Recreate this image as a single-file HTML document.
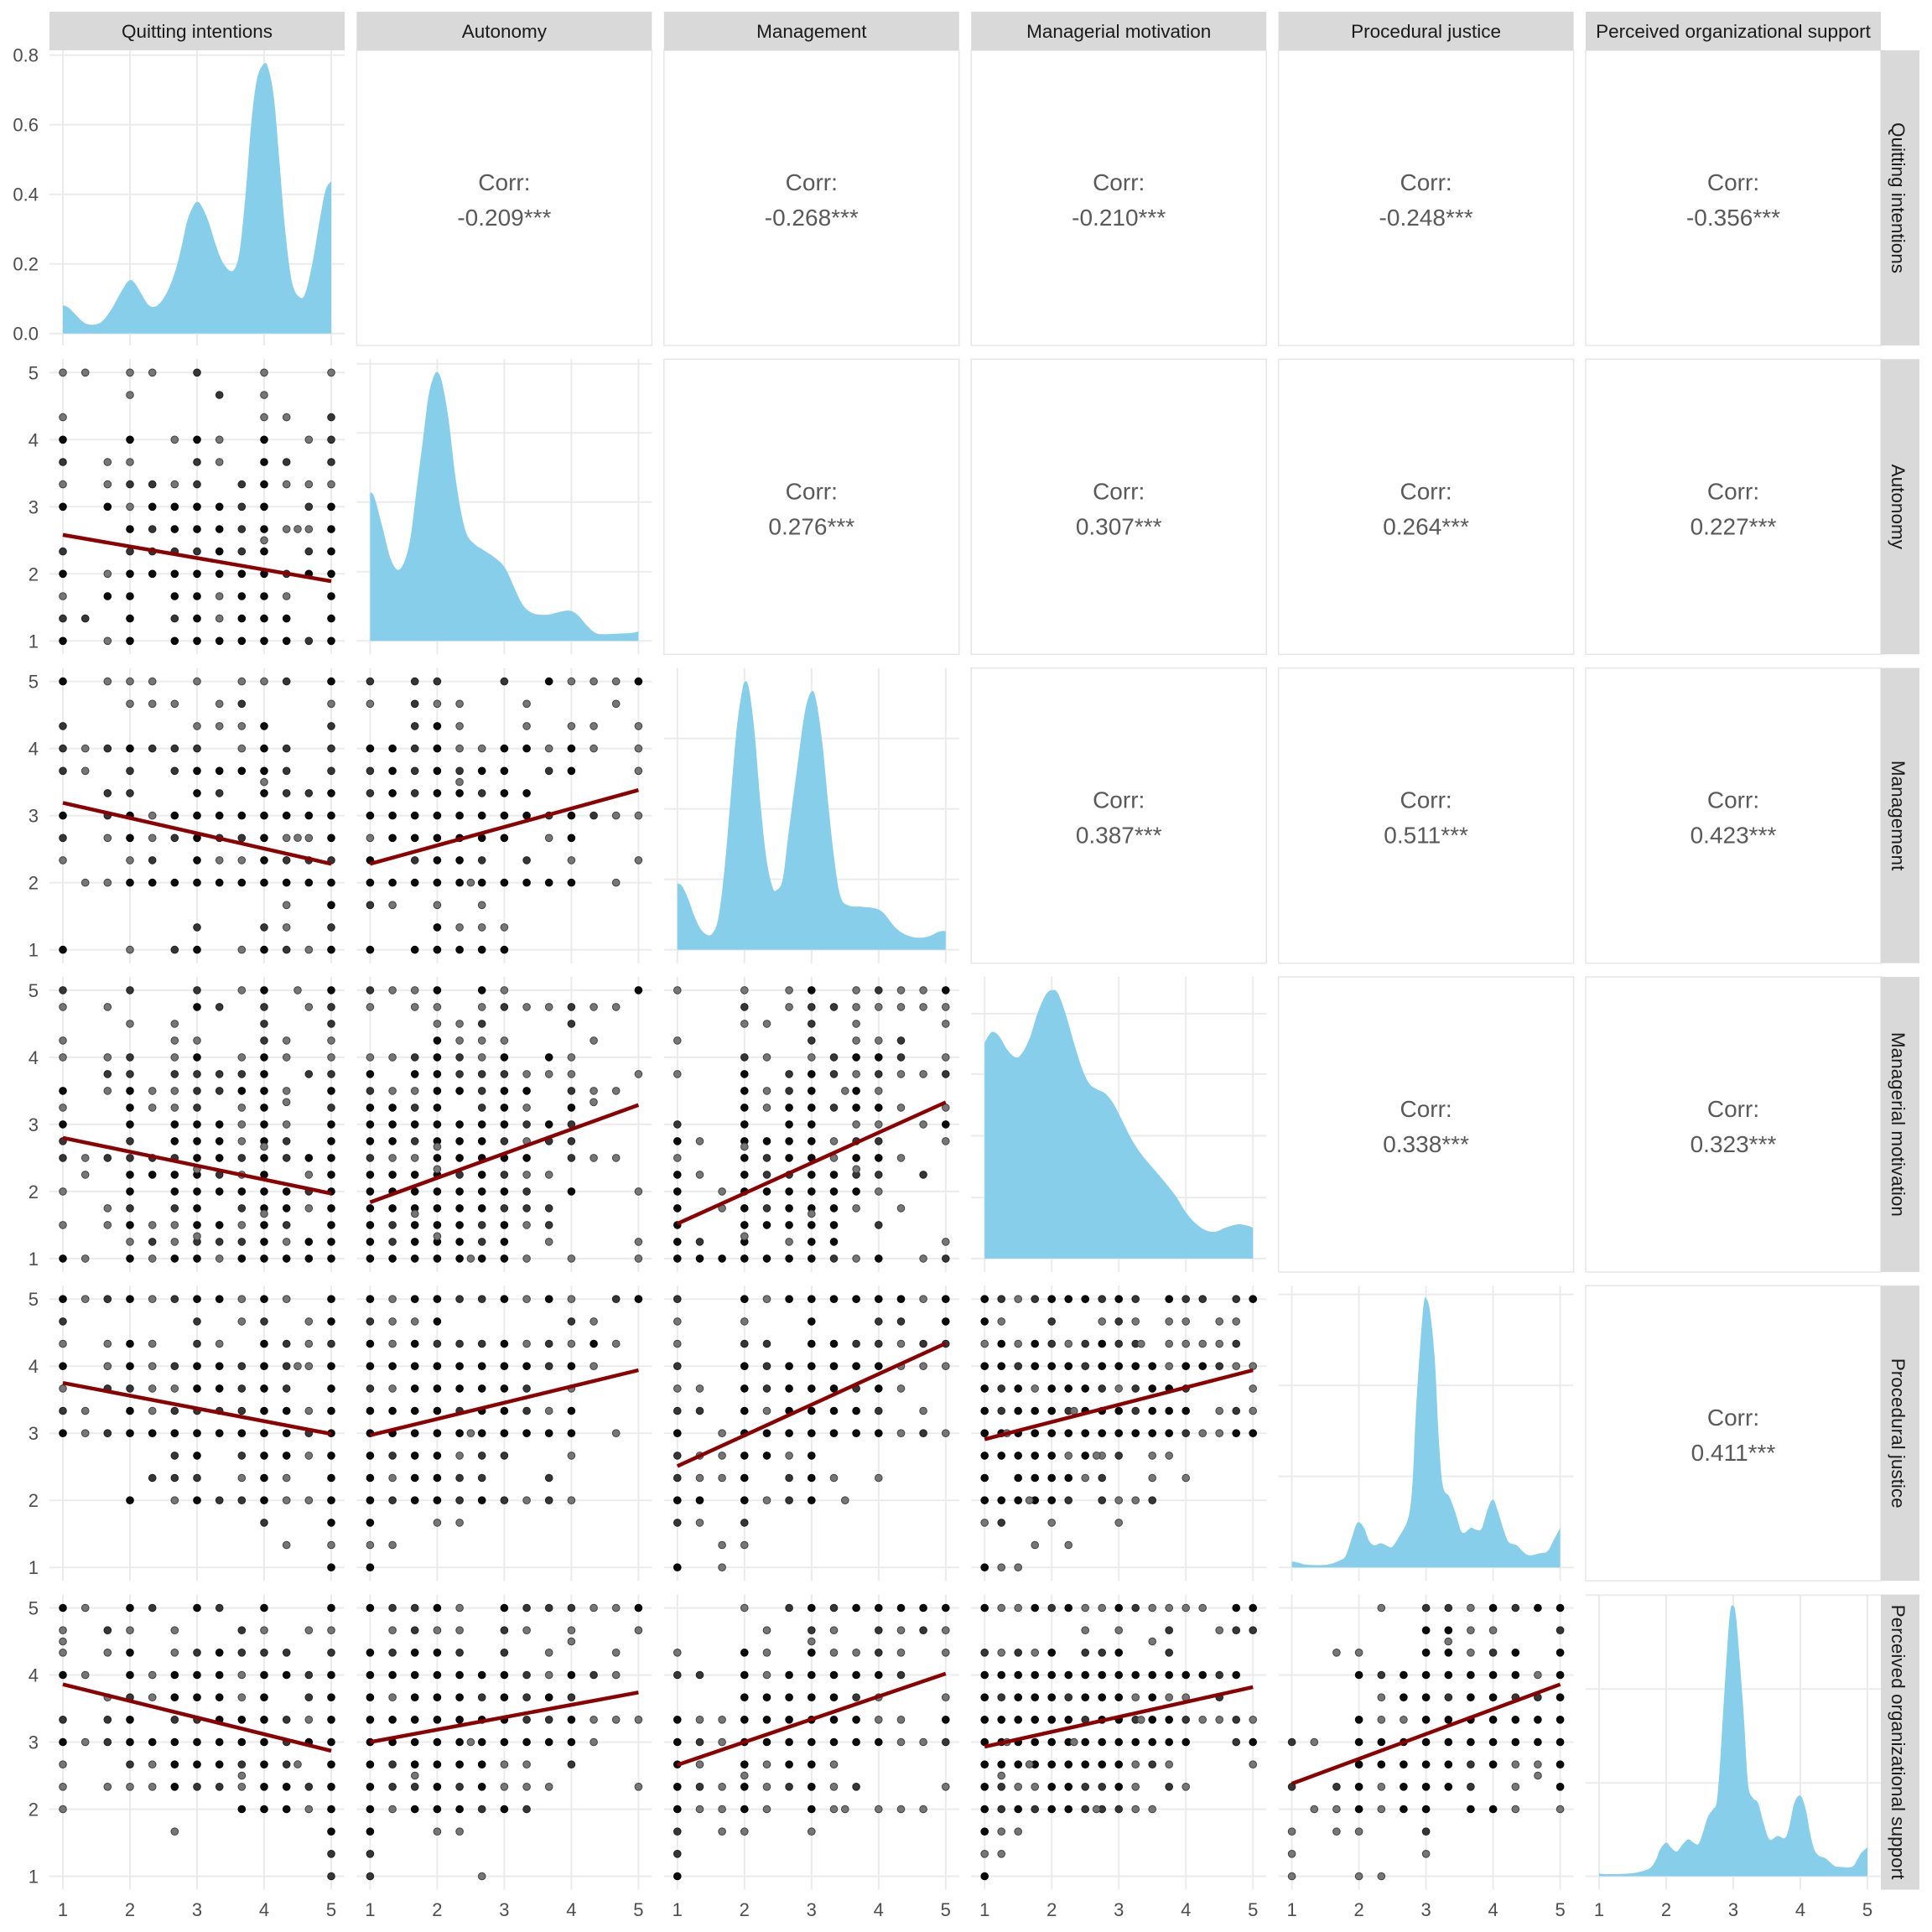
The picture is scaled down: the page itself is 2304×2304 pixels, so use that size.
<!DOCTYPE html>
<html><head><meta charset="utf-8">
<style>
html,body{margin:0;padding:0;background:#fff;}
svg{display:block;}
text{font-family:"Liberation Sans",Arial,sans-serif;}
.st{font-size:22.5px;fill:#1a1a1a;}
.tk{font-size:22px;fill:#4d4d4d;}
.cr{font-size:28px;fill:#595959;}
</style></head>
<body>
<svg id="s" width="2304" height="2304" viewBox="0 0 2304 2304" xmlns="http://www.w3.org/2000/svg">
<rect width="2304" height="2304" fill="#fff"/>
<g id="grid"></g>
<g id="dens"></g>
<g id="pts"></g>
<g id="lns"></g>

<!-- upper panel borders -->
<g fill="none" stroke="#e6e6e6" stroke-width="1.5">
<rect x="425.4" y="60" width="352" height="352"/><rect x="791.8" y="60" width="352" height="352"/><rect x="1158.2" y="60" width="352" height="352"/><rect x="1524.6" y="60" width="352" height="352"/><rect x="1891" y="60" width="352" height="352"/>
<rect x="791.8" y="428.3" width="352" height="352"/><rect x="1158.2" y="428.3" width="352" height="352"/><rect x="1524.6" y="428.3" width="352" height="352"/><rect x="1891" y="428.3" width="352" height="352"/>
<rect x="1158.2" y="796.6" width="352" height="352"/><rect x="1524.6" y="796.6" width="352" height="352"/><rect x="1891" y="796.6" width="352" height="352"/>
<rect x="1524.6" y="1164.9" width="352" height="352"/><rect x="1891" y="1164.9" width="352" height="352"/>
<rect x="1891" y="1533.2" width="352" height="352"/>
</g>

<!-- top strips -->
<g fill="#d9d9d9">
<rect x="59" y="14" width="352" height="46"/><rect x="425.4" y="14" width="352" height="46"/><rect x="791.8" y="14" width="352" height="46"/><rect x="1158.2" y="14" width="352" height="46"/><rect x="1524.6" y="14" width="352" height="46"/><rect x="1891" y="14" width="352" height="46"/>
<rect x="2243" y="60" width="46" height="352"/><rect x="2243" y="428.3" width="46" height="352"/><rect x="2243" y="796.6" width="46" height="352"/><rect x="2243" y="1164.9" width="46" height="352"/><rect x="2243" y="1533.2" width="46" height="352"/><rect x="2243" y="1901.5" width="46" height="352"/>
</g>
<g class="st" text-anchor="middle">
<text x="235" y="45">Quitting intentions</text>
<text x="601.4" y="45">Autonomy</text>
<text x="967.8" y="45">Management</text>
<text x="1334.2" y="45">Managerial motivation</text>
<text x="1700.6" y="45">Procedural justice</text>
<text x="2067" y="45">Perceived organizational support</text>
<text transform="translate(2264,236) rotate(90)" y="8">Quitting intentions</text>
<text transform="translate(2264,604.3) rotate(90)" y="8">Autonomy</text>
<text transform="translate(2264,972.6) rotate(90)" y="8">Management</text>
<text transform="translate(2264,1340.9) rotate(90)" y="8">Managerial motivation</text>
<text transform="translate(2264,1709.2) rotate(90)" y="8">Procedural justice</text>
<text transform="translate(2264,2077.5) rotate(90)" y="8">Perceived organizational support</text>
</g>

<!-- correlation text -->
<g class="cr" text-anchor="middle">
<text x="601.4" y="227">Corr:</text><text x="601.4" y="269">-0.209***</text>
<text x="967.8" y="227">Corr:</text><text x="967.8" y="269">-0.268***</text>
<text x="1334.2" y="227">Corr:</text><text x="1334.2" y="269">-0.210***</text>
<text x="1700.6" y="227">Corr:</text><text x="1700.6" y="269">-0.248***</text>
<text x="2067" y="227">Corr:</text><text x="2067" y="269">-0.356***</text>
<text x="967.8" y="595.3">Corr:</text><text x="967.8" y="637.3">0.276***</text>
<text x="1334.2" y="595.3">Corr:</text><text x="1334.2" y="637.3">0.307***</text>
<text x="1700.6" y="595.3">Corr:</text><text x="1700.6" y="637.3">0.264***</text>
<text x="2067" y="595.3">Corr:</text><text x="2067" y="637.3">0.227***</text>
<text x="1334.2" y="963.6">Corr:</text><text x="1334.2" y="1005.6">0.387***</text>
<text x="1700.6" y="963.6">Corr:</text><text x="1700.6" y="1005.6">0.511***</text>
<text x="2067" y="963.6">Corr:</text><text x="2067" y="1005.6">0.423***</text>
<text x="1700.6" y="1331.9">Corr:</text><text x="1700.6" y="1373.9">0.338***</text>
<text x="2067" y="1331.9">Corr:</text><text x="2067" y="1373.9">0.323***</text>
<text x="2067" y="1700.2">Corr:</text><text x="2067" y="1742.2">0.411***</text>
</g>

<!-- left tick labels -->
<g class="tk" text-anchor="end">
<text x="46" y="405.7">0.0</text><text x="46" y="322.7">0.2</text><text x="46" y="239.7">0.4</text><text x="46" y="156.7">0.6</text><text x="46" y="73.7">0.8</text>
<text x="46" y="772.3">1</text><text x="46" y="692.3">2</text><text x="46" y="612.3">3</text><text x="46" y="532.3">4</text><text x="46" y="452.3">5</text>
<text x="46" y="1140.6">1</text><text x="46" y="1060.6">2</text><text x="46" y="980.6">3</text><text x="46" y="900.6">4</text><text x="46" y="820.6">5</text>
<text x="46" y="1508.9">1</text><text x="46" y="1428.9">2</text><text x="46" y="1348.9">3</text><text x="46" y="1268.9">4</text><text x="46" y="1188.9">5</text>
<text x="46" y="1877.2">1</text><text x="46" y="1797.2">2</text><text x="46" y="1717.2">3</text><text x="46" y="1637.2">4</text><text x="46" y="1557.2">5</text>
<text x="46" y="2245.5">1</text><text x="46" y="2165.5">2</text><text x="46" y="2085.5">3</text><text x="46" y="2005.5">4</text><text x="46" y="1925.5">5</text>
</g>
<!-- bottom tick labels -->
<g class="tk" text-anchor="middle">
<text x="75" y="2285">1</text><text x="155" y="2285">2</text><text x="235" y="2285">3</text><text x="315" y="2285">4</text><text x="395" y="2285">5</text>
<text x="441.4" y="2285">1</text><text x="521.4" y="2285">2</text><text x="601.4" y="2285">3</text><text x="681.4" y="2285">4</text><text x="761.4" y="2285">5</text>
<text x="807.8" y="2285">1</text><text x="887.8" y="2285">2</text><text x="967.8" y="2285">3</text><text x="1047.8" y="2285">4</text><text x="1127.8" y="2285">5</text>
<text x="1174.2" y="2285">1</text><text x="1254.2" y="2285">2</text><text x="1334.2" y="2285">3</text><text x="1414.2" y="2285">4</text><text x="1494.2" y="2285">5</text>
<text x="1540.6" y="2285">1</text><text x="1620.6" y="2285">2</text><text x="1700.6" y="2285">3</text><text x="1780.6" y="2285">4</text><text x="1860.6" y="2285">5</text>
<text x="1907" y="2285">1</text><text x="1987" y="2285">2</text><text x="2067" y="2285">3</text><text x="2147" y="2285">4</text><text x="2227" y="2285">5</text>
</g>
</svg>
<script>
(function(){
const NS='http://www.w3.org/2000/svg';
const CX=c=>59+c*366.4, RY=r=>60+r*368.3;
const px=(c,v)=>CX(c)+16+(v-1)*80, py=(r,v)=>RY(r)+336-(v-1)*80;
function el(p,t,a){const e=document.createElementNS(NS,t);for(const k in a)e.setAttribute(k,a[k]);p.appendChild(e);return e;}
const G=document.getElementById('grid'),D=document.getElementById('dens'),PT=document.getElementById('pts'),LN=document.getElementById('lns');
function gl(x1,y1,x2,y2){el(G,'line',{x1:x1,y1:y1,x2:x2,y2:y2,stroke:'#ebebeb','stroke-width':2});}
function hl(r,c,y){gl(CX(c),y,CX(c)+352,y);}
for(let r=0;r<6;r++)for(let c=0;c<=r;c++){
  for(let v=1;v<=5;v++){const x=px(c,v);gl(x,RY(r),x,RY(r)+352);}
  if(r!==c)for(let v=1;v<=5;v++)hl(r,c,py(r,v));
}
[397.7,314.7,231.7,148.7,65.7].forEach(y=>hl(0,0,y));
const DG={1:[1,2.03,3.07,4.1,5.13],2:[1,2.05,3.1,4.15],3:[1,1.91,2.83,3.75,4.65],4:[1,2.357,3.714,5.07],5:[1,2.39,3.79,5.19]};
for(const k in DG)DG[k].forEach(v=>hl(+k,+k,py(+k,v)));

function smooth(p){let d='M'+p[0][0]+','+p[0][1];for(let i=0;i<p.length-1;i++){const p0=p[i-1]||p[i],p1=p[i],p2=p[i+1],p3=p[i+2]||p2;
 const c1x=p1[0]+(p2[0]-p0[0])/6,c1y=p1[1]+(p2[1]-p0[1])/6,c2x=p2[0]-(p3[0]-p1[0])/6,c2y=p2[1]-(p3[1]-p1[1])/6;
 d+='C'+c1x.toFixed(2)+','+c1y.toFixed(2)+' '+c2x.toFixed(2)+','+c2y.toFixed(2)+' '+p2[0].toFixed(2)+','+p2[1].toFixed(2);}return d;}
function dens(p,base){const d=smooth(p)+'L'+p[p.length-1][0]+','+base+'L'+p[0][0]+','+base+'Z';el(D,'path',{d:d,fill:'#87ceeb'});}

dens([[75,364],[81.7,366.7],[90,375],[98.3,383.3],[105,386.7],[115,386.7],[123.3,381.7],[133.3,368.3],[143.3,350],[153.3,335],[160,336.7],[168.3,350],[176.7,363.3],[185,365.7],[193.3,358.3],[201.7,343.3],[210,320],[216.7,293.3],[223.3,263.3],[230,246.7],[235,240.7],[240,245],[248.3,263.3],[256.7,290],[265,311.7],[275,323.3],[281.7,316.7],[286.7,293.3],[293.3,226.7],[300,143.3],[306.7,93.3],[315,76],[320,81.7],[326.7,116.7],[333.3,193.3],[340,273.3],[348.3,336.7],[358.3,355],[365,346.7],[373.3,310],[381.7,260],[388.3,226.7],[395,216]],397.7);

const DD={
1:[[1,3.21],[1.06,3.15],[1.18,2.71],[1.30,2.24],[1.41,2.06],[1.51,2.18],[1.60,2.53],[1.69,3.24],[1.78,3.94],[1.87,4.65],[1.96,4.97],[2.02,4.99],[2.08,4.82],[2.17,4.30],[2.26,3.53],[2.35,2.95],[2.44,2.59],[2.56,2.44],[2.68,2.36],[2.86,2.24],[3.01,2.09],[3.16,1.77],[3.28,1.53],[3.43,1.41],[3.64,1.39],[3.82,1.43],[3.97,1.45],[4.09,1.39],[4.24,1.22],[4.36,1.12],[4.48,1.10],[4.72,1.11],[4.90,1.12],[5,1.14]],
2:[[1,1.99],[1.07,1.95],[1.16,1.76],[1.25,1.51],[1.34,1.32],[1.43,1.23],[1.52,1.24],[1.61,1.47],[1.70,2.18],[1.79,3.21],[1.88,4.25],[1.96,4.83],[2.01,5.0],[2.07,4.88],[2.15,4.25],[2.24,3.17],[2.33,2.34],[2.42,1.93],[2.48,1.89],[2.57,2.05],[2.66,2.76],[2.78,3.67],[2.90,4.54],[3.0,4.85],[3.07,4.71],[3.16,4.09],[3.25,3.17],[3.34,2.34],[3.43,1.80],[3.55,1.66],[3.76,1.64],[3.97,1.61],[4.09,1.53],[4.24,1.34],[4.39,1.23],[4.57,1.18],[4.75,1.20],[4.90,1.27],[5,1.28]],
3:[[1,4.22],[1.07,4.34],[1.13,4.38],[1.22,4.31],[1.34,4.11],[1.46,4.0],[1.55,4.05],[1.67,4.28],[1.79,4.66],[1.91,4.93],[2.0,5.0],[2.09,4.96],[2.21,4.64],[2.33,4.22],[2.45,3.84],[2.56,3.61],[2.68,3.52],[2.80,3.46],[2.92,3.31],[3.04,3.08],[3.19,2.78],[3.34,2.55],[3.49,2.37],[3.67,2.16],[3.85,1.93],[4.0,1.69],[4.15,1.52],[4.30,1.42],[4.44,1.40],[4.59,1.46],[4.77,1.51],[4.92,1.49],[5,1.46]],
4:[[1,1.09],[1.10,1.07],[1.23,1.04],[1.52,1.04],[1.73,1.11],[1.81,1.19],[1.90,1.46],[1.96,1.64],[2.01,1.67],[2.08,1.58],[2.15,1.40],[2.23,1.33],[2.33,1.36],[2.44,1.31],[2.5,1.31],[2.60,1.46],[2.71,1.66],[2.77,1.93],[2.81,2.46],[2.85,3.34],[2.92,4.40],[2.97,4.96],[3.01,5.0],[3.06,4.81],[3.13,4.11],[3.19,2.93],[3.25,2.22],[3.35,2.05],[3.44,1.81],[3.52,1.55],[3.58,1.52],[3.67,1.59],[3.75,1.56],[3.83,1.58],[3.92,1.87],[4.0,2.01],[4.08,1.81],[4.15,1.58],[4.23,1.38],[4.35,1.33],[4.44,1.24],[4.54,1.18],[4.69,1.21],[4.81,1.24],[4.90,1.40],[5,1.59]],
5:[[1,1.04],[1.12,1.03],[1.45,1.04],[1.66,1.08],[1.77,1.13],[1.85,1.25],[1.91,1.40],[2.0,1.5],[2.08,1.42],[2.16,1.37],[2.25,1.48],[2.33,1.55],[2.41,1.50],[2.48,1.48],[2.54,1.63],[2.62,1.88],[2.70,2.0],[2.75,2.09],[2.79,2.50],[2.83,3.13],[2.89,4.09],[2.95,4.92],[3.0,5.03],[3.04,4.88],[3.10,4.17],[3.16,3.34],[3.22,2.38],[3.29,2.17],[3.37,2.09],[3.45,1.80],[3.54,1.55],[3.66,1.60],[3.77,1.57],[3.83,1.72],[3.91,2.09],[4.0,2.20],[4.08,2.0],[4.14,1.67],[4.20,1.42],[4.27,1.31],[4.37,1.27],[4.50,1.16],[4.58,1.14],[4.77,1.14],[4.85,1.25],[4.91,1.35],[5,1.43]]
};
for(const k in DD){const r=+k;dens(DD[k].map(p=>[px(r,p[0]),py(r,p[1])]),py(r,1));}

const CL={g:['#767676','#404040'],d:['#363636','#1e1e1e'],b:['#0c0c0c','#000']};
function dot(r,c,x,y,k){el(PT,'circle',{cx:px(c,x).toFixed(1),cy:py(r,y).toFixed(1),r:4.3,fill:CL[k][0],stroke:CL[k][1],'stroke-width':1});}
const S=[
[1,0,["gg.gg.d..g..g","...g...d.g...","g........gg.d","b..b.gbg.b.gd","d.gg..dg.bd.d","g.gddgd.dbggg","b.bgbbbbdb.db","...bdbbbdbggb","d..ddddbdb.db","b.gbbbbbbbdbb","g.bb.bbgbbg.b","dd.b.dbgbbb.b","b.gb.bbbbbbdb"],[[4,2.5],[4.5,2.667]],[2.58,1.89]],
[2,0,["b.ggg.g.ggd.b","...ggg.gd...g","d.....gggb..d","dgdbddd.gbd.d","dg.d.dbbbbd.d","..dd..bd.bddb","b.dbgbbbbbbbb","d.gbgdbddbggb","g..gd.bggbddd",".ggbbbbbbbbbb","..........g.b","......d..dg.d","b..g.db.gbdgb"],[[4,3.5],[4.5,2.667]],[3.19,2.28]],
[2,1,["d.dd..d.bgggb","g.dgg..g...g.","..dbg..g.gg.g","bbdbggbbgbg.g","dbdbdbb.db..g","dbdbbdbb.....","bbbbbbbbdbdgg","gbbbbbb.gb...","b.dbbd.d.g..g","bbbbbbbbbb.g.","dg.g.g.......","...bggg......","b.bbbbb......"],[[2.333,3.5],[2.5,2]],[2.28,3.38]],
[3,0,["d..d..d.gb..b","g.g...bd.d.gd","...g.g...d..d","g....gg..dg.g","g.gd.gb.gbg.g","..dd.ddddb.dd","b.gbggddbbg.b","g..bggd.gb..d","b..b.bbbgbg.b","d..d.bbbgbd.b","dgddddbbdbdbb",".g.bbbbdgb.gb","g..b.bbbbbbdb","..gd.db.dbbgb","g.gbggbbgbd.b","...gdgdddbgbb","bg.bgbbgbbbbb"],[[4.5,5],[4.333,3.333],[4,2.667],[3,2.333],[4,1.667],[3,1.333]],[2.80,1.97]],
[3,1,["dggb.bg.....b","g.gg.gdggdgg.","...ggd...d...","...bggg...g..","ggdbdgb.bg...","b.bbdddggg..g","dggbbdbb.dgg.","bbdb.dbg.b...","bbbbbbbdbd...","bbdbbbdgdd...","dggbbbbb.dgg.","bbbbdbdgg....","bbbbbbbd.b..g","bbbbbbddd....","bdbbbdbgd....","bdbbbdb.g...g","bbbbbbbg.g..g"],[[4.333,3.333],[2,2.667],[2,2.333],[1.667,1.667],[2,1.333],[2.5,1]],[1.84,3.29]],
[3,2,["g..g.gb.gdggb","...d.gddggggg","...gg.d.g...g","g.....d.ggd..","...dg.gdbbd.g","g..b.dbdgdggd","...bgdb.bg...","...bgbbdbbg.g","d..b.bb.gg.gb","bg.bbbbgdd..g","g..bdbbgbbg..","bg.bddbbdd.d.","b.gbbbbbbg...","b.gbdbbbg.g..","b..bbbbb.d...","bd.b.gbb....g","bbbbbbbdgb.gd"],[[3.5,3.5],[2,2.667],[3.667,2.333],[3,1.667],[2,1.333]],[1.52,3.33]],
[4,0,["bgdbgdbbgbg.b","d.....d.gd.gb","g.gbg.dg.bdgd","b.gbgdbbdbdgb","g.ddggbbdbd.b","dg.bgddddbbgb","bgdbbbbbbbbdb",".....db.dbbgb","....ddd.gbg.b","...b.gbddbggb",".........d..b","..........g.g","............b"],[[4.5,4]],[3.75,2.99]],
[4,1,["bgbbddbgbg.db","dggb.....dg..","bgbdddbgdgbg.","bbbbbbbbdbg..","dgbbbbbd.g...","bbbbdbbdgb...","bbbbbbbbbb.g.","bdbbgdd..g...","bgbbdd..d....","bdbbdbdgdg...","b..gg........","gg...........","b............"],[[2.5,3]],[2.97,3.94]],
[4,2,["d..bgbbbbbbgb","g..g..b..dd.b","g..dd.bbddgdd","d..bdbbbbbggg","gg.bdbbbdbg..","dd.bgbbbbd.g.","b.gbbbbbbbgdg","dggbbgb......","dggb.dbg.g...","bb.bgdb......","dg.d.........","..gg.........","b.g.........."],[[3.5,2]],[2.51,4.34]],
[4,3,["bdgdbbbdbd.bdd.db","bg..d..gdg.gg.gg.","gbgbdgdbdd.ggggd.","bbdbbbdbbbbgbbdgg","bdbgbbbdgdbbd...g","bdbbbdbbbdbbb.gdg","bbbbbbbbbbbbdggbb","bbbbbgbgd.gg.....","b.bbbbgd..g.g....","bbbbbd.dggd......","gd..g...g........","...g.g...........","bgg.............."],[[3.333,4.333],[2.333,3.333],[1.333,3],[2.667,2.667],[1.667,2]],[2.91,3.94]],
[5,0,["bg.bd.bd.b..b","g.dg.g..dg.gg","g.gb.gdbddd.d","bg.bgbbbgbbdb","..gdgbbbgb.db","d.db.ddbbbdgb","bgdbbbbbbbdbb","g..dgbbbdbd.b","g.gggbddgbbdb","g.......bbbgb",".....g......b","............d","............d"],[[1,4.5],[4.5,2.667],[3.667,2.5]],[3.86,2.87]],
[5,1,["bddbg.bdddggb",".gdgg.dg.g..g","bdbbd.d.g..g.","bbbbbbbdgbdg.","bgbbbdbdbd...","bbbbbbbddbggg","bbbbbbbbbbg..","bdbbbbgg.d...","bddbdbggg...g","bgbbbdbd.....","b..gg........","d............","d....g......."],[[4,4.5],[2.5,3],[1.667,2.5]],[3.0,3.74]],
[5,2,["...g.dbdbbbbb","....g.dg.dgdg","g..bg.bggdg.g","dd.bgbbbbbd..","...bbbbbdg..g","bggbbbbbbgg.b","bdgbbbbbbbggd","bg.bgbbg.....","bdgbgdbgd...g","bggbg.bg.ggg.","d.gg..g......","d............","b............"],[[3,4.5],[2,2.5],[3.5,2]],[2.66,4.02]],
[5,3,["bggbdbggbdgggg.bb","......g.g..d..gdd","dgdgb.ddb..d.....","bbbbbbbbbbbbbbdb.","bdbbbdbbbgbgg.d..","bbbbbbdbbdbbdggdg","bbbbbbbbbbbbb..db","bbbbbbbbbgdg....g","bdggbbddbg.dg....","bdbdbbdddgg......","bgg..............","gg...............","b................"],[[3.5,4.5],[3.333,3.333],[1.333,3],[2.333,3],[1.667,2.667],[1.25,2.5],[2.667,2]],[2.93,3.82]],
[5,4,["....g.ddgbdbb","......bbgg..d","..gg..bbgdb.b","...bdbbbbbbgb","....gbbdbbddb","...bggbbbbbbb","dg.bbbbbbbbbb","...bbbbbdbggb","d.dbgbbbd.g.b",".ggbgbb.bbg.g","g.gg..d......","g.....g......","g..gg........"],[[3.333,4.5],[4.667,2.5]],[2.38,3.86]]
];
S.forEach(function(s){const r=s[0],c=s[1],rows=s[2],ex=s[3],ln=s[4];const ny=rows.length;
 rows.forEach(function(str,j){const nx=str.length;for(let i=0;i<nx;i++){const k=str[i];if(k!=='.')dot(r,c,1+i*4/(nx-1),5-j*4/(ny-1),k);}});
 ex.forEach(function(e){dot(r,c,e[0],e[1],e[2]||'g');});
 el(LN,'line',{x1:px(c,1),y1:py(r,ln[0]),x2:px(c,5),y2:py(r,ln[1]),stroke:'#8b0000','stroke-width':4.5});
});
})();
</script>
</body></html>
